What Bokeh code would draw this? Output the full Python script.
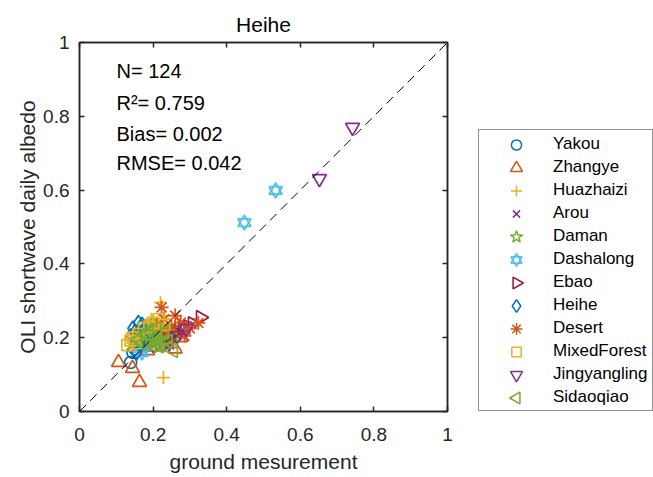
import math
from bokeh.plotting import figure
from bokeh.layouts import row
from bokeh.models import LinearAxis, FixedTicker, Legend, LegendItem, Slope, Label, Range1d
from bokeh.embed import file_html
from bokeh.resources import INLINE

# ---------------- data ----------------
site_names = ["Yakou", "Zhangye", "Huazhaizi", "Arou", "Daman", "Dashalong",
              "Ebao", "Heihe", "Desert", "MixedForest", "Jingyangling", "Sidaoqiao"]

yakou_x = [0.139, 0.150, 0.162, 0.175, 0.190, 0.145, 0.205, 0.168]
yakou_y = [0.133, 0.170, 0.185, 0.200, 0.210, 0.160, 0.195, 0.178]

zhangye_x = [0.106, 0.144, 0.163, 0.260, 0.205, 0.230, 0.185, 0.245, 0.275, 0.215, 0.170, 0.250]
zhangye_y = [0.133, 0.117, 0.079, 0.170, 0.175, 0.195, 0.165, 0.210, 0.200, 0.225, 0.190, 0.185]

huazhaizi_x = [0.220, 0.228, 0.195, 0.210, 0.240, 0.225, 0.185, 0.250, 0.205, 0.230, 0.215, 0.260]
huazhaizi_y = [0.295, 0.092, 0.250, 0.240, 0.225, 0.215, 0.230, 0.205, 0.200, 0.260, 0.220, 0.230]

arou_x = [0.293, 0.270, 0.255, 0.240, 0.230, 0.215, 0.200, 0.190, 0.245, 0.265, 0.225, 0.210, 0.280, 0.250, 0.235, 0.205]
arou_y = [0.233, 0.225, 0.215, 0.200, 0.190, 0.185, 0.178, 0.170, 0.180, 0.205, 0.210, 0.195, 0.215, 0.225, 0.175, 0.205]

daman_x = [0.150, 0.160, 0.170, 0.180, 0.190, 0.200, 0.210, 0.220, 0.230, 0.240, 0.250,
           0.175, 0.185, 0.195, 0.205, 0.215, 0.225, 0.235, 0.165, 0.255, 0.200, 0.215]
daman_y = [0.195, 0.205, 0.210, 0.190, 0.215, 0.200, 0.220, 0.205, 0.195, 0.210, 0.220,
           0.225, 0.180, 0.230, 0.185, 0.215, 0.230, 0.200, 0.215, 0.205, 0.240, 0.175]

dashalong_x = [0.448, 0.533, 0.160, 0.170]
dashalong_y = [0.512, 0.599, 0.170, 0.160]

ebao_x = [0.329, 0.307, 0.280, 0.260, 0.240, 0.295]
ebao_y = [0.255, 0.238, 0.225, 0.215, 0.205, 0.230]

heihe_x = [0.145, 0.160, 0.170, 0.150, 0.180, 0.140, 0.165, 0.155, 0.175, 0.190]
heihe_y = [0.225, 0.240, 0.235, 0.215, 0.225, 0.205, 0.180, 0.160, 0.200, 0.215]

desert_x = [0.223, 0.323, 0.275, 0.300, 0.250, 0.230, 0.210, 0.260, 0.285, 0.240]
desert_y = [0.282, 0.240, 0.241, 0.225, 0.230, 0.250, 0.235, 0.260, 0.205, 0.215]

mixedforest_x = [0.139, 0.130, 0.145, 0.160, 0.175, 0.190, 0.200, 0.215, 0.230, 0.150]
mixedforest_y = [0.192, 0.180, 0.200, 0.210, 0.225, 0.230, 0.240, 0.250, 0.235, 0.185]

jingyangling_x = [0.742, 0.652, 0.290, 0.265]
jingyangling_y = [0.770, 0.631, 0.225, 0.205]

sidaoqiao_x = [0.160, 0.180, 0.200, 0.220, 0.240, 0.255, 0.190, 0.210, 0.230, 0.170]
sidaoqiao_y = [0.195, 0.210, 0.200, 0.180, 0.190, 0.165, 0.220, 0.225, 0.215, 0.185]

stats_text = ["N= 124", "R\u00b2= 0.759", "Bias= 0.002", "RMSE= 0.042"]

tick_values = [0, 0.2, 0.4, 0.6, 0.8, 1]
tick_labels = ["0", "0.2", "0.4", "0.6", "0.8", "1"]

title_text = "Heihe"
x_label = "ground mesurement"
y_label = "OLI shortwave daily albedo"

# ---------------- styles ----------------
FONT = "Liberation Sans"
AX = "#262626"
MLW = 1.7
colors = ["#0072BD", "#D95319", "#EDB120", "#7E2F8E", "#77AC30", "#4DBEEE",
          "#A2142F", "#0072BD", "#D95319", "#EDB120", "#7E2F8E", "#77AC30"]
marker_specs = [
    [("circle", 12, 0)],
    [("triangle", 14, 0)],
    [("cross", 13, 0)],
    [("x", 12, 0)],
    [("star", 15, 0)],
    [("triangle", 13, 0), ("inverted_triangle", 13, 0)],
    [("triangle", 14, -math.pi / 2)],
    [("diamond", 15, 0)],
    [("asterisk", 14, 0)],
    [("square", 11, 0)],
    [("inverted_triangle", 14, 0)],
    [("triangle", 14, math.pi / 2)],
]
series = [(yakou_x, yakou_y), (zhangye_x, zhangye_y), (huazhaizi_x, huazhaizi_y),
          (arou_x, arou_y), (daman_x, daman_y), (dashalong_x, dashalong_y),
          (ebao_x, ebao_y), (heihe_x, heihe_y), (desert_x, desert_y),
          (mixedforest_x, mixedforest_y), (jingyangling_x, jingyangling_y),
          (sidaoqiao_x, sidaoqiao_y)]

# ---------------- main plot ----------------
p = figure(frame_width=368, frame_height=369,
           x_range=Range1d(0, 1), y_range=Range1d(0, 1),
           output_backend="svg", toolbar_location=None,
           min_border_left=79, min_border_right=10, min_border_top=42, min_border_bottom=64)
p.grid.visible = False
p.outline_line_color = AX
p.outline_line_width = 1.5
p.background_fill_color = "white"
p.border_fill_color = "white"

p.title.text = title_text
p.title.align = "center"
p.title.text_font = FONT
p.title.text_font_size = "21px"
p.title.text_font_style = "normal"
p.title.text_color = "#000000"
p.title.standoff = 14

bottom_axis = p.below[0]
left_axis = p.left[0]
top_axis = LinearAxis()
right_axis = LinearAxis()
p.add_layout(top_axis, "above")
p.add_layout(right_axis, "right")

overrides = {v: s for v, s in zip(tick_values, tick_labels)}
blank = {v: "" for v in tick_values}
for ax in [bottom_axis, left_axis, top_axis, right_axis]:
    ax.ticker = FixedTicker(ticks=tick_values)
    ax.major_label_overrides = overrides
    ax.major_tick_in = 5
    ax.major_tick_out = 0
    ax.minor_tick_line_color = None
    ax.axis_line_color = AX
    ax.axis_line_width = 1.5
    ax.major_tick_line_color = AX
    ax.major_tick_line_width = 1.5
    ax.major_label_text_font = FONT
    ax.major_label_text_font_size = "19px"
    ax.major_label_text_color = AX
for ax in [top_axis, right_axis]:
    ax.major_label_overrides = blank
    ax.major_label_text_font_size = "1px"
    ax.major_label_standoff = 0

bottom_axis.major_label_standoff = 16
left_axis.major_label_standoff = 10
for ax, lab in [(bottom_axis, x_label), (left_axis, y_label)]:
    ax.axis_label = lab
    ax.axis_label_text_font = FONT
    ax.axis_label_text_font_size = "21px"
    ax.axis_label_text_font_style = "normal"
    ax.axis_label_text_color = AX
bottom_axis.axis_label_standoff = 6
left_axis.axis_label_standoff = 1

p.add_layout(Slope(gradient=1, y_intercept=0, line_color="black", line_width=1, line_dash="9 6"))

for name, (xs, ys), col, specs in zip(site_names, series, colors, marker_specs):
    for mk, sz, ang in specs:
        p.scatter(xs, ys, marker=mk, size=sz, angle=ang, line_color=col,
                  fill_color=None, line_width=MLW)

label_x = 0.1005
label_y = [0.923, 0.837, 0.753, 0.673]
for t, yy in zip(stats_text, label_y):
    p.add_layout(Label(x=label_x, y=yy, text=t, text_font=FONT,
                       text_font_size="20px", text_baseline="middle",
                       text_color="#000000"))

# ---------------- legend panel ----------------
# Axis-less plot carrying the legend. Its ranges are pixel-sized (1 unit = 1 px) and
# lie below zero, so the proxy copies of the site data never show in it.
LW, LH = 176, 369
PAD, GW, ROW = 2, 72, 23
lf = figure(frame_width=LW, frame_height=LH, x_range=Range1d(-LW, 0), y_range=Range1d(-LH, 0),
            x_axis_type=None, y_axis_type=None,
            output_backend="svg", toolbar_location=None,
            min_border_left=21, min_border_right=0, min_border_top=42, min_border_bottom=64)
lf.grid.visible = False
lf.outline_line_color = None
lf.background_fill_color = "white"
lf.border_fill_color = "white"

n_items = len(site_names)
items = []
for i, (name, (xs, ys), col, specs) in enumerate(zip(site_names, series, colors, marker_specs)):
    proxy = lf.scatter(xs, ys, marker="circle", size=1, line_alpha=0, fill_alpha=0)
    items.append(LegendItem(label=name, renderers=[proxy]))
    # legend key, drawn at the legend's glyph slot (rotated markers need this)
    kx = -LW + PAD + GW / 2
    ky = -LH + PAD + (n_items - 1 - i) * ROW + ROW / 2
    for mk, sz, ang in specs:
        lf.scatter([kx], [ky], marker=mk, size=sz * 0.85, angle=ang, line_color=col,
                   fill_color=None, line_width=1.5)

legend = Legend(items=items, location="bottom_left")
legend.label_text_font = FONT
legend.label_text_font_size = "17px"
legend.label_text_color = "#000000"
legend.glyph_width = GW
legend.glyph_height = ROW
legend.label_height = ROW
legend.label_width = 97
legend.spacing = 0
legend.padding = PAD
legend.label_standoff = 0
legend.margin = 0
legend.border_line_color = AX
legend.border_line_width = 1
legend.background_fill_alpha = 0
lf.add_layout(legend, "center")

layout = row(p, lf, spacing=0)
open("out.html", "w").write(file_html(layout, INLINE))
